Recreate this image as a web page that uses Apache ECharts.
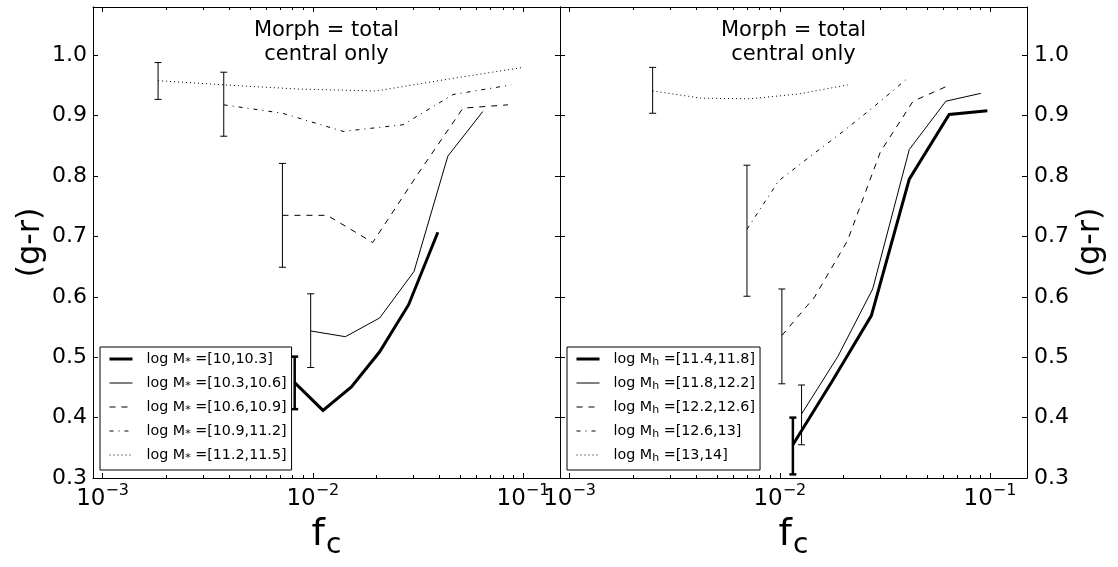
<!DOCTYPE html>
<html><head><meta charset="utf-8">
<script src="https://cdn.jsdelivr.net/npm/echarts@6/dist/echarts.min.js"></script>
<style>html,body{margin:0;padding:0;background:#fff}#c{width:1118px;height:567px}</style>
</head><body><div id="c"></div>
<script>
const FONT = 'DejaVu Sans';

// ---- Left panel: stellar-mass bins ----
const ms1Name = 'log M* =[10,10.3]';
const ms1X = [0.0082, 0.01118, 0.01526, 0.0208, 0.02857, 0.03935];
const ms1Y = [0.458, 0.412, 0.451, 0.509, 0.587, 0.707];
const ms1Err = [0.414, 0.501];

const ms2Name = 'log M* =[10.3,10.6]';
const ms2X = [0.00977, 0.01429, 0.0208, 0.0303, 0.0439, 0.0644];
const ms2Y = [0.5435, 0.534, 0.565, 0.642, 0.833, 0.907];
const ms2Err = [0.483, 0.605];

const ms3Name = 'log M* =[10.6,10.9]';
const ms3X = [0.00717, 0.01172, 0.01928, 0.03155, 0.0518, 0.0848];
const ms3Y = [0.735, 0.735, 0.690, 0.803, 0.9125, 0.918];
const ms3Err = [0.649, 0.821];

const ms4Name = 'log M* =[10.9,11.2]';
const ms4X = [0.00377, 0.00719, 0.01393, 0.02687, 0.04645, 0.0879];
const ms4Y = [0.918, 0.904, 0.874, 0.885, 0.935, 0.951];
const ms4Err = [0.866, 0.972];

const ms5Name = 'log M* =[11.2,11.5]';
const ms5X = [0.001836, 0.00377, 0.00867, 0.02005, 0.04484, 0.1002];
const ms5Y = [0.958, 0.951, 0.944, 0.941, 0.961, 0.980];
const ms5Err = [0.927, 0.988];

// ---- Right panel: halo-mass bins ----
const mh1Name = 'log Mh =[11.4,11.8]';
const mh1X = [0.01154, 0.01786, 0.02727, 0.0413, 0.06394, 0.09719];
const mh1Y = [0.355, 0.462, 0.569, 0.795, 0.902, 0.908];
const mh1Err = [0.306, 0.400];

const mh2Name = 'log Mh =[11.8,12.2]';
const mh2X = [0.01269, 0.01887, 0.02766, 0.0413, 0.06169, 0.09045];
const mh2Y = [0.406, 0.501, 0.613, 0.844, 0.924, 0.937];
const mh2Err = [0.355, 0.454];

const mh3Name = 'log Mh =[12.2,12.6]';
const mh3X = [0.01023, 0.01466, 0.02099, 0.03009, 0.04306, 0.06169];
const mh3Y = [0.536, 0.600, 0.693, 0.840, 0.924, 0.948];
const mh3Err = [0.456, 0.613];

const mh4Name = 'log Mh =[12.6,13]';
const mh4X = [0.00698, 0.00987, 0.0140, 0.01986, 0.0285, 0.04055];
const mh4Y = [0.712, 0.792, 0.833, 0.873, 0.917, 0.962];
const mh4Err = [0.601, 0.818];

const mh5Name = 'log Mh =[13,14]';
const mh5X = [0.002483, 0.004236, 0.007228, 0.01233, 0.02104];
const mh5Y = [0.941, 0.929, 0.928, 0.936, 0.951];
const mh5Err = [0.904, 0.980];

// ---- axes ----
const xMin = 0.0009, xMax = 0.15;
const yMin = 0.3, yMax = 1.08, yStep = 0.1;
const minorTicks = [0.002,0.003,0.004,0.005,0.006,0.007,0.008,0.009,
                    0.02,0.03,0.04,0.05,0.06,0.07,0.08,0.09];
const titleLines = ['Morph = total', 'central only'];
const xName = 'f';
const xSub = 'c';
const yName = '(g-r)';

const styles = [
  {width: 3, type: 'solid'},
  {width: 1, type: 'solid'},
  {width: 1, type: [6, 6]},
  {width: 1, type: [4, 5, 1, 5]},
  {width: 1, type: [1, 3]}
];

function pairs(xs, ys) { return xs.map((x, i) => [x, ys[i]]); }

function lineS(name, xs, ys, k, g) {
  return {
    type: 'line', name: name, xAxisIndex: g * 2, yAxisIndex: g * 2,
    data: pairs(xs, ys), symbol: 'none', showSymbol: false,
    lineStyle: {color: '#000', width: styles[k].width, type: styles[k].type, cap: 'butt', join: 'miter'},
    itemStyle: {color: 'rgba(0,0,0,0)', borderWidth: 0, opacity: 0},
    z: 3, silent: true
  };
}

function errS(xs, err, k, g) {
  const lw = k === 0 ? 2.5 : 1;
  return {
    type: 'custom', xAxisIndex: g * 2, yAxisIndex: g * 2,
    data: [[xs[0], err[0], err[1]]],
    encode: {x: 0, y: [1, 2]}, silent: true, z: 4,
    renderItem: function (params, api) {
      const a = api.coord([api.value(0), api.value(1)]);
      const b = api.coord([api.value(0), api.value(2)]);
      const w = 3.5;
      const st = {stroke: '#000', lineWidth: lw};
      return {type: 'group', children: [
        {type: 'line', shape: {x1: a[0], y1: a[1], x2: b[0], y2: b[1]}, style: st},
        {type: 'line', shape: {x1: a[0] - w, y1: a[1], x2: a[0] + w, y2: a[1]}, style: st},
        {type: 'line', shape: {x1: b[0] - w, y1: b[1], x2: b[0] + w, y2: b[1]}, style: st}
      ]};
    }
  };
}

function minorS(g) {
  return {
    type: 'custom', xAxisIndex: g * 2, yAxisIndex: g * 2,
    data: minorTicks.map(v => [v, yMin]), encode: {x: 0, y: 1}, silent: true, z: 5,
    renderItem: function (params, api) {
      const cs = params.coordSys;
      const p = api.coord([api.value(0), yMin]);
      const x = Math.round(p[0]) + 0.5;
      const st = {stroke: '#000', lineWidth: 1};
      return {type: 'group', children: [
        {type: 'line', shape: {x1: x, y1: cs.y + cs.height, x2: x, y2: cs.y + cs.height - 3}, style: st},
        {type: 'line', shape: {x1: x, y1: cs.y, x2: x, y2: cs.y + 3}, style: st}
      ]};
    }
  };
}

const axLine = {show: true, lineStyle: {color: '#000', width: 1}};
const tickIn = {show: true, inside: true, length: 5, lineStyle: {color: '#000', width: 1}};

function xAx(g, pos) {
  return {
    type: 'log', logBase: 10, gridIndex: g, position: pos, min: xMin, max: xMax,
    axisLine: axLine, axisTick: tickIn, splitLine: {show: false}, minorTick: {show: false},
    name: pos === 'bottom' ? '{f|' + xName + '}{c|' + xSub + '}' : '',
    nameLocation: 'middle', nameGap: 38,
    nameTextStyle: {fontFamily: FONT, color: '#000', rich: {
      f: {fontFamily: FONT, fontSize: 38, color: '#000', lineHeight: 44, verticalAlign: 'top'},
      c: {fontFamily: FONT, fontSize: 28, color: '#000', lineHeight: 44, verticalAlign: 'bottom', padding: [0, 0, 0, 1]}
    }},
    axisLabel: {
      show: pos === 'bottom', margin: 5, fontFamily: FONT, fontSize: 22, color: '#000',
      formatter: function (v) {
        const e = Math.log10(v), r = Math.round(e);
        if (Math.abs(e - r) > 1e-6) return '';
        return '{b|10}{s|' + (r < 0 ? '\u2212' + (-r) : r) + '}';
      },
      rich: {
        b: {fontFamily: FONT, fontSize: 23, color: '#000', lineHeight: 28, verticalAlign: 'bottom'},
        s: {fontFamily: FONT, fontSize: 16, color: '#000', lineHeight: 28, verticalAlign: 'top'}
      }
    }
  };
}

function yAx(g, pos, labels, named) {
  return {
    type: 'value', gridIndex: g, position: pos, min: yMin, max: yMax, interval: yStep,
    axisLine: axLine, axisTick: tickIn, splitLine: {show: false},
    name: named ? yName : '', nameLocation: 'middle', nameGap: named ? (pos === 'left' ? 46 : 48) : 0, nameRotate: 90,
    nameTextStyle: {fontFamily: FONT, fontSize: 32, color: '#000'},
    axisLabel: {
      show: labels, margin: pos === 'left' ? 6 : 7, fontFamily: FONT, fontSize: 22, color: '#000',
      showMaxLabel: false,
      formatter: function (v) {
        return Math.abs(v * 10 - Math.round(v * 10)) < 1e-6 ? v.toFixed(1) : '';
      }
    }
  };
}

function legendFmt(name) {
  return name.replace('M*', 'M{s|*}').replace('Mh', 'M{s|h}');
}

function legendCfg(left, names) {
  return {
    left: left, top: 347, orient: 'vertical', data: names,
    padding: [5, 5, 6, 8], itemGap: 8, itemWidth: 23, itemHeight: 16,
    borderColor: '#000', borderWidth: 1, borderRadius: 0, backgroundColor: '#fff',
    selectedMode: false, formatter: legendFmt,
    itemStyle: {opacity: 0, borderWidth: 0},
    lineStyle: {width: 'inherit', type: 'inherit', color: '#000'},
    textStyle: {fontFamily: FONT, fontSize: 14.3, color: '#000', padding: [0, 0, 0, 9],
      rich: {s: {fontFamily: FONT, fontSize: 11, color: '#000', verticalAlign: 'bottom', padding: [7, 0, 0, 0]}}}
  };
}

const gridL = {left: 93, top: 7, width: 467, height: 471};
const gridR = {left: 560, top: 7, width: 467, height: 471};

const series = [
  lineS(ms1Name, ms1X, ms1Y, 0, 0), lineS(ms2Name, ms2X, ms2Y, 1, 0), lineS(ms3Name, ms3X, ms3Y, 2, 0),
  lineS(ms4Name, ms4X, ms4Y, 3, 0), lineS(ms5Name, ms5X, ms5Y, 4, 0),
  errS(ms1X, ms1Err, 0, 0), errS(ms2X, ms2Err, 1, 0), errS(ms3X, ms3Err, 2, 0),
  errS(ms4X, ms4Err, 3, 0), errS(ms5X, ms5Err, 4, 0),
  lineS(mh1Name, mh1X, mh1Y, 0, 1), lineS(mh2Name, mh2X, mh2Y, 1, 1), lineS(mh3Name, mh3X, mh3Y, 2, 1),
  lineS(mh4Name, mh4X, mh4Y, 3, 1), lineS(mh5Name, mh5X, mh5Y, 4, 1),
  errS(mh1X, mh1Err, 0, 1), errS(mh2X, mh2Err, 1, 1), errS(mh3X, mh3Err, 2, 1),
  errS(mh4X, mh4Err, 3, 1), errS(mh5X, mh5Err, 4, 1),
  minorS(0), minorS(1)
];

function titleText(cx) {
  return [
    {type: 'text', x: cx, y: 31, style: {text: titleLines[0], font: '21px "DejaVu Sans"', fill: '#000', textAlign: 'center', textVerticalAlign: 'middle'}},
    {type: 'text', x: cx, y: 55, style: {text: titleLines[1], font: '21px "DejaVu Sans"', fill: '#000', textAlign: 'center', textVerticalAlign: 'middle'}}
  ];
}

const chart = echarts.init(document.getElementById('c'), null, {renderer: 'canvas'});
chart.setOption({
  animation: false,
  backgroundColor: '#fff',
  grid: [gridL, gridR],
  xAxis: [xAx(0, 'bottom'), xAx(0, 'top'), xAx(1, 'bottom'), xAx(1, 'top')],
  yAxis: [yAx(0, 'left', true, true), yAx(0, 'right', false, false), yAx(1, 'right', true, true), yAx(1, 'left', false, false)],
  legend: [
    legendCfg(100, [ms1Name, ms2Name, ms3Name, ms4Name, ms5Name]),
    legendCfg(567, [mh1Name, mh2Name, mh3Name, mh4Name, mh5Name])
  ],
  graphic: titleText(326.5).concat(titleText(793.5)),
  series: series
});
</script></body></html>
